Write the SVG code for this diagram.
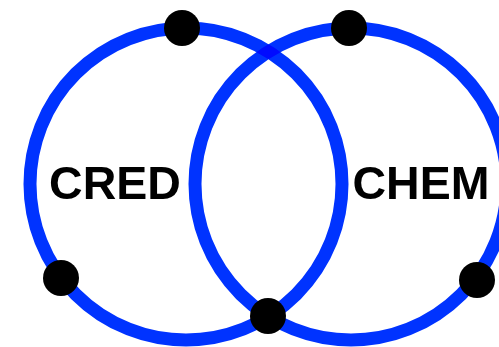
<svg xmlns="http://www.w3.org/2000/svg" width="499" height="347" viewBox="0 0 499 347">
<style>
.ring{fill:none;stroke:#0033ff;stroke-width:13}
.dot{fill:#000}
.lbl{font-family:"Liberation Sans",Arial,sans-serif;font-weight:bold;font-size:46.5px;fill:#000;text-anchor:middle}
</style>
<rect width="499" height="347" fill="#fff"/>
<g id="connectors">
<circle id="ring-cred" class="ring" cx="186" cy="184" r="156"/>
<circle id="ring-chem" class="ring" cx="351" cy="184" r="156" style="mix-blend-mode:multiply"/>
</g>
<g id="cred"><text class="lbl" x="115" y="199">CRED</text></g>
<g id="chem"><text class="lbl" x="421" y="199">CHEM</text></g>
<g id="n1"><circle class="dot" cx="182" cy="28" r="18"/></g>
<g id="n2"><circle class="dot" cx="349" cy="28" r="18"/></g>
<g id="n3"><circle class="dot" cx="61" cy="278" r="18"/></g>
<g id="n4"><circle class="dot" cx="268" cy="316" r="18"/></g>
<g id="n5"><circle class="dot" cx="477" cy="280" r="18"/></g>
</svg>
